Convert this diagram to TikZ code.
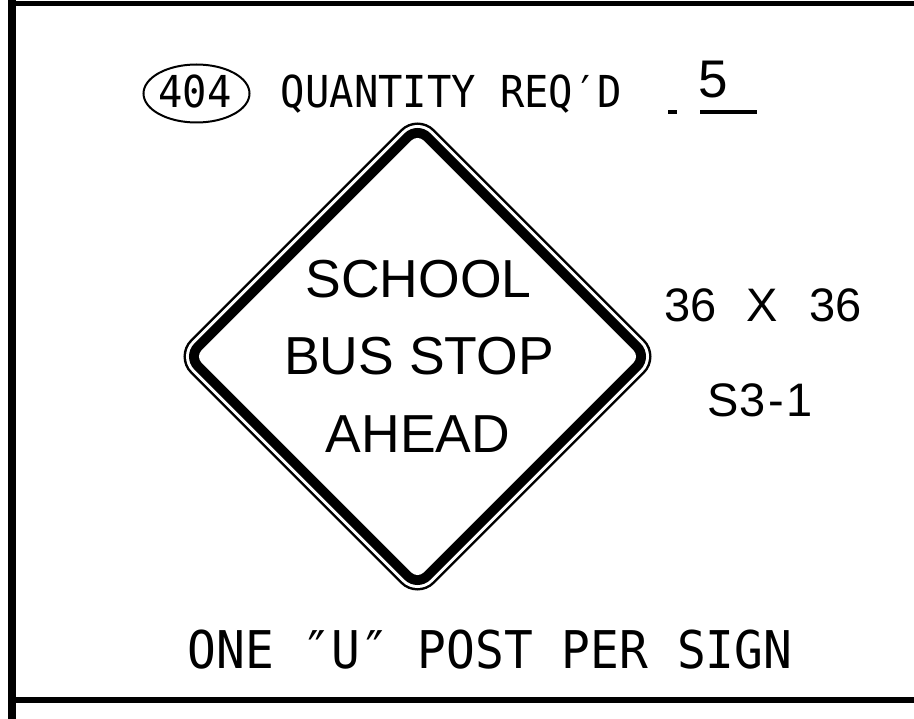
\documentclass[tikz,border=0pt]{standalone}
\usepackage{fontspec}
\usetikzlibrary{shapes.geometric}
\setmainfont{Liberation Sans}
\newfontfamily\monof[FakeStretch=0.92]{DejaVu Sans Mono}
\begin{document}
\begin{tikzpicture}[x=1pt,y=-1pt,
  signtext/.style={inner sep=0pt, anchor=base, font=\fontsize{53.5}{53.5}\selectfont},
  sidetext/.style={inner sep=0pt, anchor=base, font=\fontsize{47}{47}\selectfont},
  cadtext/.style={inner sep=0pt, anchor=base, font=\monof\fontsize{44}{44}\selectfont},
  cadbig/.style={inner sep=0pt, anchor=base, font=\monof\fontsize{52}{52}\selectfont}]
\useasboundingbox (0,0) rectangle (914,719);
\fill[white] (0,0) rectangle (914,719);
% frame
\coordinate (tl) at (12,3.5);
\coordinate (tr) at (914,3.5);
\coordinate (lt) at (12,0);
\coordinate (lb) at (12,719);
\coordinate (bl) at (12,700);
\coordinate (br) at (914,700);
\draw[line width=5pt] (tl) -- (tr);
\draw[line width=8pt] (lt) -- (lb);
\draw[line width=6pt] (bl) -- (br);
% header
\node[draw, ellipse, line width=2pt, minimum width=106pt, minimum height=58pt, inner sep=0pt] (oval) at (196.5,93.5) {};
\node[cadtext] (num) at (195,108) {404};
\node[cadtext] (qty) at (451.5,108) {QUANTITY REQ′D};
\node[inner sep=0pt, anchor=base, font=\fontsize{53}{53}\selectfont] (five) at (713.5,98) {5};
\coordinate (u1) at (700,112);
\coordinate (u2) at (757,112);
\coordinate (d1) at (668,112);
\coordinate (d2) at (677,112);
\draw[line width=4pt] (u1) -- (u2);
\draw[line width=4pt] (d1) -- (d2);
% sign
\begin{scope}[shift={(417.5,356.5)}, rotate=45]
  \fill[black, rounded corners=24pt] (-172.5,-172.5) rectangle (172.5,172.5);
  \fill[white, rounded corners=21.5pt] (-170,-170) rectangle (170,170);
  \fill[black, rounded corners=18.5pt] (-167,-167) rectangle (167,167);
  \fill[white, rounded corners=8.5pt] (-157,-157) rectangle (157,157);
\end{scope}
\node[signtext] (l1) at (418.5,298) {SCHOOL};
\node[signtext] (l2) at (419,375) {BUS STOP};
\node[signtext] (l3) at (418,453) {AHEAD};
% side
\node[sidetext] (s1) at (690.5,322) {36};
\node[sidetext] (s2) at (762.5,322) {X};
\node[sidetext] (s3) at (835.5,322) {36};
\node[sidetext] (code) at (760.5,417) {S3\kern3pt-\kern3pt1};
% footer
\node[cadbig] (foot) at (490,668) {ONE ″U″ POST PER SIGN};
\end{tikzpicture}
\end{document}
